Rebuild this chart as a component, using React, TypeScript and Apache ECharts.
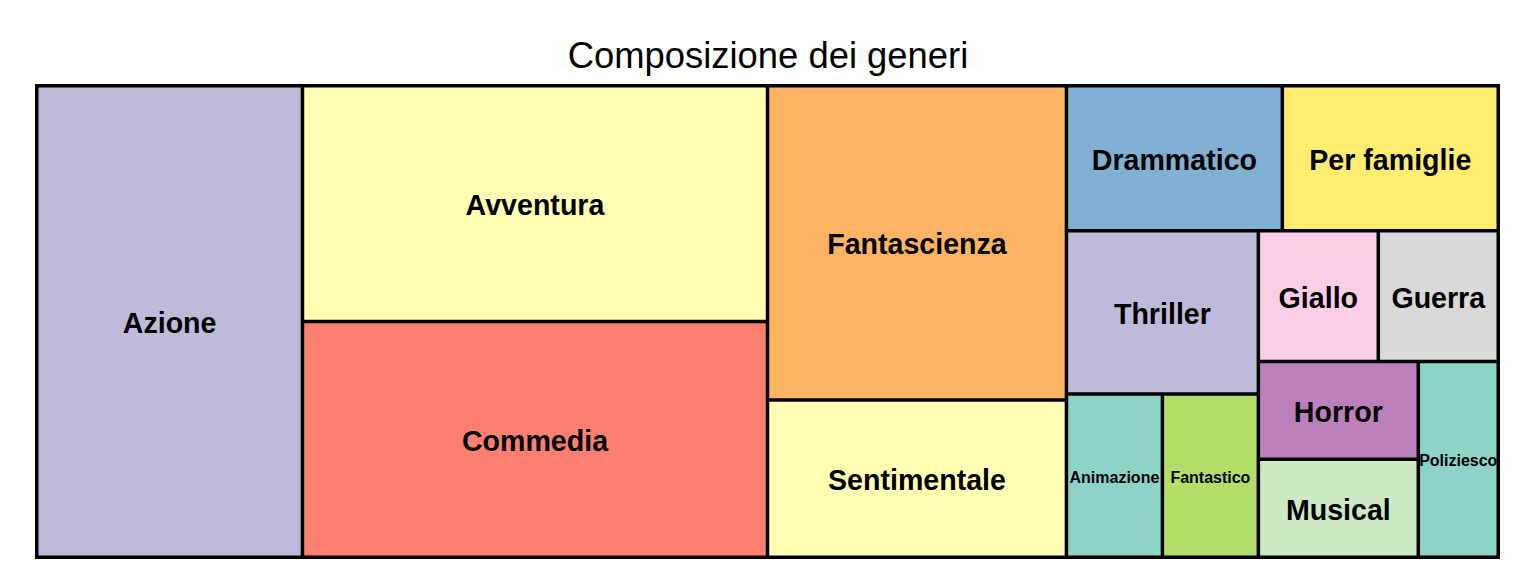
import React, { useEffect, useRef } from 'react';
import * as echarts from 'echarts';

const FONT = '"Liberation Sans", Arial, Helvetica, sans-serif';

const titleText = 'Composizione dei generi';
const genres = [
  'Azione', 'Avventura', 'Commedia', 'Fantascienza', 'Sentimentale',
  'Drammatico', 'Per famiglie', 'Thriller', 'Animazione', 'Fantastico',
  'Giallo', 'Guerra', 'Horror', 'Musical', 'Poliziesco',
];
const counts = [8, 7, 7, 6, 3, 2, 2, 2, 1, 1, 1, 1, 1, 1, 1];
const colors = [
  '#BEBADA', '#FFFFB3', '#FB8072', '#FDB462', '#FFFFB3',
  '#80B1D3', '#FFED6F', '#BEBADA', '#8DD3C7', '#B3DE69',
  '#FCCDE5', '#D9D9D9', '#BC80BD', '#CCEBC5', '#8DD3C7',
];
const labelSizes = [28.6, 28.6, 28.6, 28.6, 28.6, 28.6, 28.6, 28.6, 16, 16, 28.6, 28.6, 28.6, 28.6, 16];
// grouping of the cells (indices into genres) reproducing the reference layout
const nesting: any[] = [0, 1, 2, 3, 4, [5, 6, [7, [8, 9]], [10, 11, [[12, 13], 14]]]];

const BORDER = 1.75;

function build(spec: any): any {
  if (typeof spec === 'number') {
    return {
      name: genres[spec],
      value: counts[spec],
      itemStyle: { color: colors[spec], borderColor: '#000', borderWidth: BORDER, gapWidth: 0 },
      label: { fontSize: labelSizes[spec] },
    };
  }
  const children = spec.map(build);
  const value = children.reduce((a: number, c: any) => a + c.value, 0);
  return {
    name: '',
    value,
    itemStyle: { color: '#000', borderColor: '#000', borderWidth: 0, gapWidth: 0 },
    children,
  };
}

export default function App() {
  const ref = useRef<HTMLDivElement>(null);
  useEffect(() => {
    if (!ref.current) return;
    const chart = echarts.init(ref.current, undefined, { renderer: 'svg' });
    chart.setOption({
      animation: false,
      backgroundColor: '#fff',
      title: {
        text: titleText,
        left: 'center',
        top: 32,
        textStyle: { fontFamily: FONT, fontSize: 36.4, fontWeight: 'normal', color: '#000' },
      },
      series: [
        {
          type: 'treemap',
          left: 35,
          top: 84,
          width: 1465,
          height: 475,
          squareRatio: 1,
          sort: false,
          roam: false,
          nodeClick: false,
          breadcrumb: { show: false },
          upperLabel: { show: false },
          label: {
            show: true,
            position: 'inside',
            color: '#000',
            fontWeight: 'bold',
            fontSize: 28.6,
            fontFamily: FONT,
            overflow: 'none',
            padding: 0,
            offset: [0, 1.5],
          },
          itemStyle: { borderColor: '#000', borderWidth: 0, gapWidth: 0 },
          levels: [{ itemStyle: { borderColor: '#000', borderWidth: BORDER, gapWidth: 0 } }],
          data: nesting.map(build),
        },
      ],
    });
    return () => chart.dispose();
  }, []);
  return (
    <div
      ref={ref}
      style={{ position: 'fixed', left: 0, top: 0, width: 1536, height: 576, background: '#fff' }}
    />
  );
}
